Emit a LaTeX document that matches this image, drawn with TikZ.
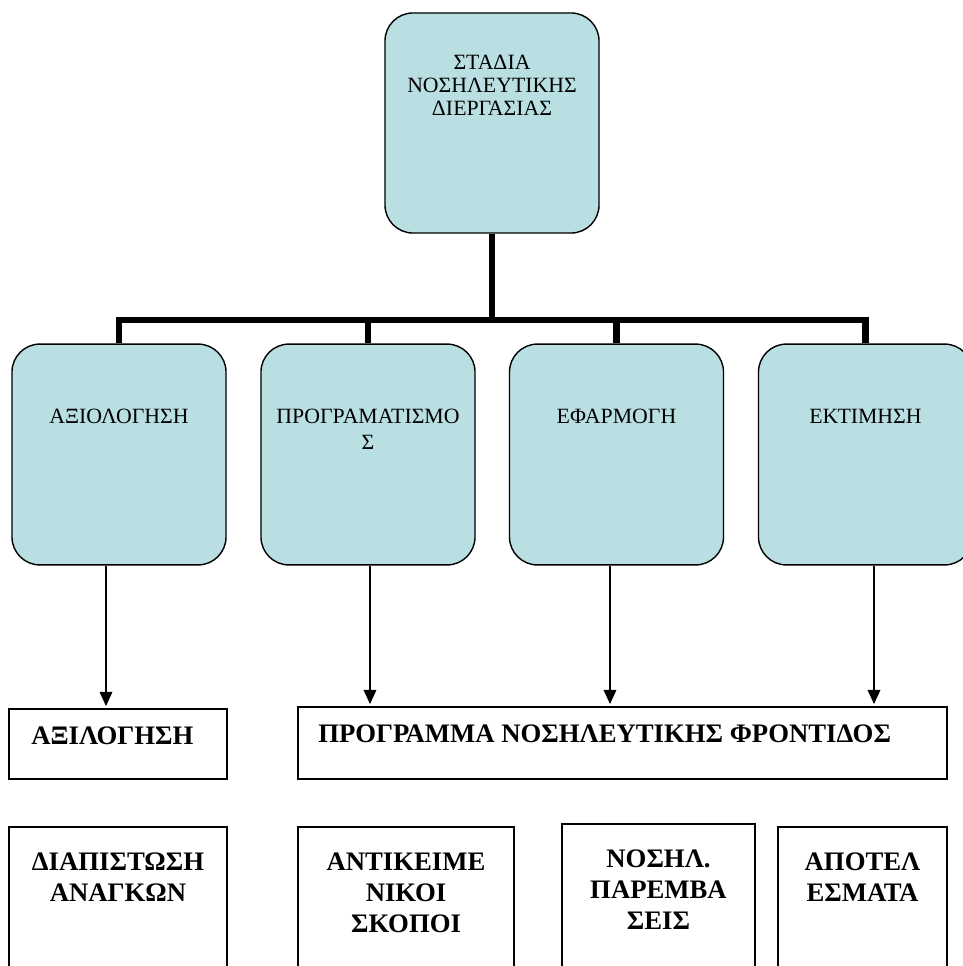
\documentclass[tikz,border=0pt]{standalone}
\usepackage{fontspec}
\setmainfont{Liberation Serif}
\usetikzlibrary{positioning,arrows.meta}
\definecolor{stagefill}{RGB}{186,223,227}

\tikzset{
  stage/.style={draw, fill=stagefill, line width=1pt, rounded corners=0.7cm,
    minimum width=5.35cm, minimum height=5.52cm, inner sep=0pt},
  stagetxt/.style={anchor=north, inner sep=0pt, align=center,
    font=\fontsize{15.5}{16.3}\selectfont},
  plainbox/.style={draw, line width=1.2pt, inner sep=0pt},
  boldtxt/.style={anchor=north, inner sep=0pt, align=center,
    font=\fontsize{19}{22}\selectfont\bfseries},
  bus/.style={line width=4.6pt},
  arr/.style={line width=0.8pt, -{Triangle[length=10pt,width=9pt]}, shorten >=1.5pt}
}

\begin{document}
\begin{tikzpicture}[x=0.025cm, y=-0.025cm]
\useasboundingbox (0,0) rectangle (962,966);

% top stage
\node[stage, minimum height=5.5cm] (top) at (492,123) {};
\node[stagetxt] (top-t) at (492,55) {ΣΤΑΔΙΑ\\ΝΟΣΗΛΕΥΤΙΚΗΣ\\ΔΙΕΡΓΑΣΙΑΣ};

% the four stages
\node[stage] (s1) at (119,454.5) {};
\node[stage] (s2) at (368,454.5) {};
\node[stage] (s3) at (616.5,454.5) {};
\node[stage] (s4) at (865.5,454.5) {};
\node[stagetxt, font=\fontsize{15.5}{18.5}\selectfont] (s1-t) at (119,409) {ΑΞΙΟΛΟΓΗΣΗ};
\node[stagetxt, font=\fontsize{15.5}{18.5}\selectfont] (s2-t) at (368,409) {ΠΡΟΓΡΑΜΑΤΙΣΜΟ\\Σ};
\node[stagetxt, font=\fontsize{15.5}{18.5}\selectfont] (s3-t) at (616.5,409) {ΕΦΑΡΜΟΓΗ};
\node[stagetxt, font=\fontsize{15.5}{18.5}\selectfont] (s4-t) at (865.5,409) {ΕΚΤΙΜΗΣΗ};

% bus
\coordinate (hub) at (492,320);
\draw[bus] (top.south) -- (hub);
\draw[bus] (s1.north) |- (hub) -| (s4.north);
\draw[bus] (s2.north) -- (s2.north |- hub);
\draw[bus] (s3.north) -- (s3.north |- hub);

% results
\node[plainbox, minimum width=5.45cm, minimum height=1.75cm] (ev) at (118,744) {};
\node[boldtxt, anchor=north west] (ev-t) at (31,727) {ΑΞΙΛΟΓΗΣΗ};
\node[plainbox, minimum width=16.225cm, minimum height=1.8cm] (plan) at (622.5,743) {};
\node[boldtxt, anchor=north west] (plan-t) at (318,725) {ΠΡΟΓΡΑΜΜΑ ΝΟΣΗΛΕΥΤΙΚΗΣ ΦΡΟΝΤΙΔΟΣ};

\draw[arr] (106,0 |- s1.south) -- (106,0 |- ev.north);
\draw[arr] (370,0 |- s2.south) -- (370,0 |- plan.north);
\draw[arr] (610,0 |- s3.south) -- (610,0 |- plan.north);
\draw[arr] (874,0 |- s4.south) -- (874,0 |- plan.north);

% bottom row
\node[plainbox, minimum width=5.45cm, minimum height=4.325cm] (b1) at (118,913.5) {};
\node[plainbox, minimum width=5.4cm, minimum height=4.325cm] (b2) at (406,913.5) {};
\node[plainbox, minimum width=4.825cm, minimum height=4.4cm] (b3) at (658.5,912) {};
\node[plainbox, minimum width=4.225cm, minimum height=4.325cm] (b4) at (862.5,913.5) {};
\node[boldtxt] (b1-t) at (118,853) {ΔΙΑΠΙΣΤΩΣΗ\\ΑΝΑΓΚΩΝ};
\node[boldtxt] (b2-t) at (406,853) {ΑΝΤΙΚΕΙΜΕ\\ΝΙΚΟΙ\\ΣΚΟΠΟΙ};
\node[boldtxt] (b3-t) at (658.5,850) {ΝΟΣΗΛ.\\ΠΑΡΕΜΒΑ\\ΣΕΙΣ};
\node[boldtxt] (b4-t) at (862.5,853) {ΑΠΟΤΕΛ\\ΕΣΜΑΤΑ};
\end{tikzpicture}
\end{document}
